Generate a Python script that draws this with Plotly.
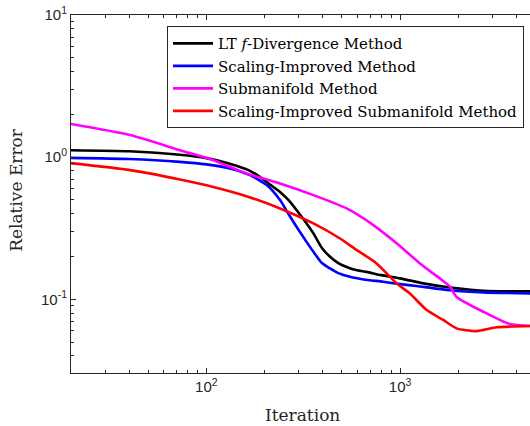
import plotly.graph_objects as go

# ---- data ----
iter_lt = [20, 40, 73, 100, 132, 165, 189, 215, 240, 265, 292, 325, 357, 395, 435, 480, 530, 600, 672, 800, 1000, 1319, 1813, 2692, 4690]
err_lt = [1.12, 1.10, 1.04, 0.985, 0.90, 0.81, 0.727, 0.636, 0.57, 0.50, 0.425, 0.35, 0.291, 0.23, 0.1995, 0.18, 0.169, 0.16, 0.156, 0.148, 0.1405, 0.1295, 0.121, 0.1149, 0.1138]

iter_si = [20, 40, 73, 100, 132, 168, 205, 240, 265, 292, 325, 357, 395, 435, 480, 551, 650, 819, 1000, 1219, 1813, 2692, 4690]
err_si = [0.989, 0.97, 0.927, 0.89, 0.833, 0.747, 0.636, 0.499, 0.40, 0.324, 0.26, 0.216, 0.18, 0.165, 0.153, 0.144, 0.138, 0.133, 0.128, 0.124, 0.116, 0.112, 0.110]

iter_sm = [20, 40.4, 73, 108.6, 161, 240, 357, 530, 728, 960, 1267, 1607, 1813, 1958, 2692, 3690, 4690]
err_sm = [1.71, 1.43, 1.12, 0.953, 0.768, 0.653, 0.541, 0.436, 0.333, 0.248, 0.179, 0.14, 0.1227, 0.104, 0.0818, 0.067, 0.0649]

iter_ssm = [20, 40.4, 73, 108.6, 161, 240, 357, 490, 598, 757, 960, 1125, 1372, 1672, 1958, 2484, 3152, 4690]
err_ssm = [0.908, 0.811, 0.697, 0.618, 0.532, 0.436, 0.342, 0.268, 0.222, 0.179, 0.1295, 0.110, 0.0841, 0.0716, 0.0625, 0.0598, 0.0636, 0.0649]

series_names = ["LT <i>f</i>-Divergence Method", "Scaling-Improved Method",
                "Submanifold Method", "Scaling-Improved Submanifold Method"]
series_colors = ["#000000", "#0000FF", "#FF00FF", "#FF0000"]

x_major = [100, 1000]
x_major_text = ["10<sup>2</sup>", "10<sup>3</sup>"]
y_major = [0.1, 1, 10]
y_major_text = ["10<sup>-1</sup>", "10<sup>0</sup>", "10<sup>1</sup>"]
x_minor = [20, 30, 40, 50, 60, 70, 80, 90, 200, 300, 400, 500, 600, 700, 800, 900, 2000, 3000, 4000, 5000]
y_minor = [0.03, 0.04, 0.05, 0.06, 0.07, 0.08, 0.09, 0.2, 0.3, 0.4, 0.5, 0.6, 0.7, 0.8, 0.9, 2, 3, 4, 5, 6, 7, 8, 9]

fig = go.Figure()
for xs, ys, nm, col in zip([iter_lt, iter_si, iter_sm, iter_ssm],
                           [err_lt, err_si, err_sm, err_ssm],
                           series_names, series_colors):
    fig.add_trace(go.Scatter(x=xs, y=ys, mode="lines", name=nm,
                             line=dict(color=col, width=2.6, shape="spline", smoothing=0.6)))

axcol = "#262626"
serif = "DejaVu Serif, Liberation Serif, serif"
tickfont = dict(family="Liberation Sans, Arial, sans-serif", size=15, color=axcol)

fig.update_layout(
    width=530, height=426, autosize=False,
    margin=dict(l=71, r=0, t=15, b=53),
    paper_bgcolor="white", plot_bgcolor="white",
    showlegend=True,
    legend=dict(x=0.987, y=0.969, xanchor="right", yanchor="top",
                bgcolor="white", bordercolor=axcol, borderwidth=1,
                font=dict(family=serif, size=15, color="black"),
                tracegroupgap=0, itemwidth=40),
    xaxis=dict(type="log", range=[1.30103, 3.671], showgrid=False, zeroline=False,
               showline=True, linecolor=axcol, linewidth=1, mirror="ticks",
               ticks="inside", ticklen=5, tickcolor=axcol,
               tickvals=x_major, ticktext=x_major_text, tickfont=tickfont,
               minor=dict(ticks="inside", ticklen=3, tickcolor=axcol, tickvals=x_minor, showgrid=False)),
    yaxis=dict(type="log", range=[-1.518, 1.0], showgrid=False, zeroline=False,
               showline=True, linecolor=axcol, linewidth=1, mirror=False,
               ticks="inside", ticklen=5, tickcolor=axcol,
               tickvals=y_major, ticktext=y_major_text, tickfont=tickfont,
               minor=dict(ticks="inside", ticklen=3, tickcolor=axcol, tickvals=y_minor, showgrid=False)),
    annotations=[
        dict(text="Iteration", xref="paper", yref="paper", x=0.505, y=-0.116,
             xanchor="center", yanchor="middle", showarrow=False,
             font=dict(family=serif, size=17, color=axcol)),
        dict(text="Relative Error", xref="paper", yref="paper", x=-0.1198, y=0.5116,
             xanchor="center", yanchor="middle", showarrow=False, textangle=-90,
             font=dict(family=serif, size=17, color=axcol)),
    ],
)

fig.write_html("out.html",
               config={"responsive": False, "displayModeBar": False},
               post_script="document.body.style.margin='0';document.body.style.overflow='hidden';")
